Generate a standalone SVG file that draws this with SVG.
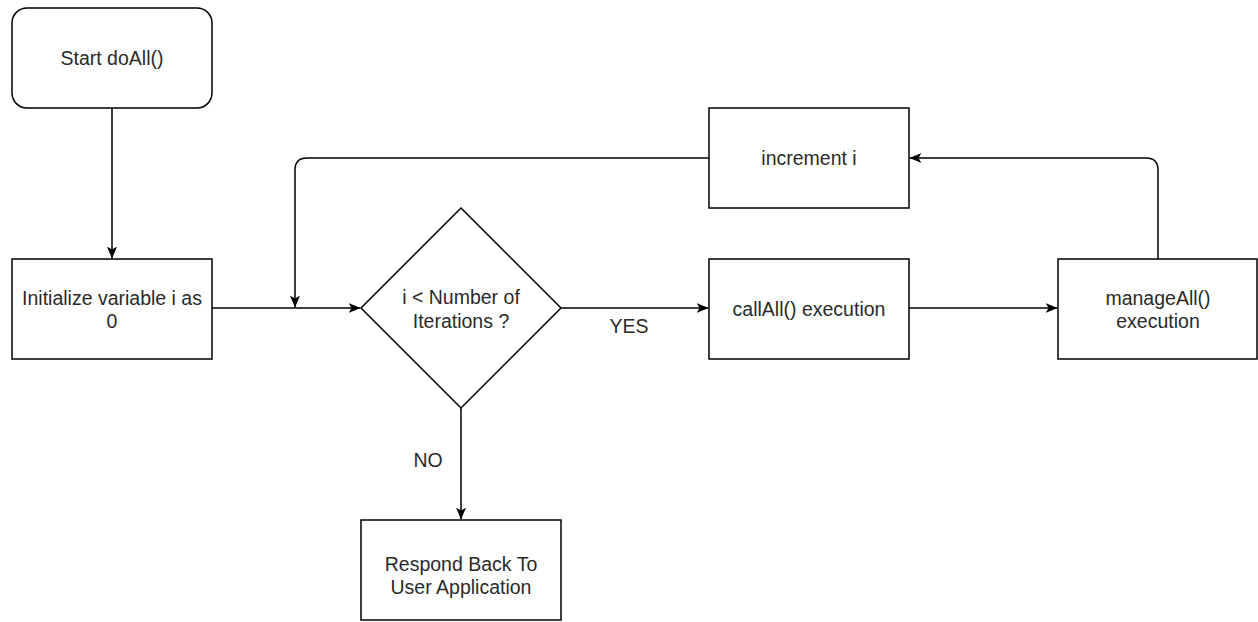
<svg xmlns="http://www.w3.org/2000/svg" width="1258" height="622" viewBox="0 0 1258 622">
  <style>
    .box { fill: #ffffff; stroke: #000000; stroke-width: 1.5; }
    .edge { fill: none; stroke: #000000; stroke-width: 1.5; }
    .lbl { font-family: "Liberation Sans", Arial, sans-serif; font-size: 19.5px; fill: #2a2a2a; text-anchor: middle; }
  </style>
  <defs>
    <marker id="arrow" viewBox="0 0 10 10" refX="9.5" refY="5" markerWidth="12" markerHeight="12" markerUnits="userSpaceOnUse" orient="auto">
      <path d="M0,0.8 L10,5 L0,9.2 L2.5,5 Z" fill="#000000"/>
    </marker>
  </defs>
  <rect width="1258" height="622" fill="#ffffff"/>

  <g id="connectors">
    <path class="edge" d="M112,108 V258" marker-end="url(#arrow)"/>
    <path class="edge" d="M212,308 H360" marker-end="url(#arrow)"/>
    <path class="edge" d="M561,308 H708" marker-end="url(#arrow)"/>
    <path class="edge" d="M909,308 H1057" marker-end="url(#arrow)"/>
    <path class="edge" d="M1158,259 V170 Q1158,158 1146,158 H910" marker-end="url(#arrow)"/>
    <path class="edge" d="M709,158 H307 Q295,158 295,170 V307" marker-end="url(#arrow)"/>
    <path class="edge" d="M461,408 V519" marker-end="url(#arrow)"/>
    <text class="lbl" x="629" y="333">YES</text>
    <text class="lbl" x="428" y="467">NO</text>
  </g>

  <g id="start">
    <rect class="box" x="12" y="8" width="200" height="100" rx="15" ry="15"/>
    <text class="lbl" x="112" y="65">Start doAll()</text>
  </g>

  <g id="init">
    <rect class="box" x="12" y="259" width="200" height="100"/>
    <text class="lbl" x="112" y="305">Initialize variable i as</text>
    <text class="lbl" x="112" y="328">0</text>
  </g>

  <g id="condition">
    <path class="box" d="M461,208 L561,308 L461,408 L361,308 Z"/>
    <text class="lbl" x="461" y="304">i &lt; Number of</text>
    <text class="lbl" x="461" y="328">Iterations ?</text>
  </g>

  <g id="increment">
    <rect class="box" x="709" y="108" width="200" height="100"/>
    <text class="lbl" x="809" y="165">increment i</text>
  </g>

  <g id="callall">
    <rect class="box" x="709" y="259" width="200" height="100"/>
    <text class="lbl" x="809" y="316">callAll() execution</text>
  </g>

  <g id="manageall">
    <rect class="box" x="1058" y="259" width="199" height="100"/>
    <text class="lbl" x="1158" y="305">manageAll()</text>
    <text class="lbl" x="1158" y="328">execution</text>
  </g>

  <g id="respond">
    <rect class="box" x="361" y="520" width="200" height="100"/>
    <text class="lbl" x="461" y="571">Respond Back To</text>
    <text class="lbl" x="461" y="594">User Application</text>
  </g>
</svg>
